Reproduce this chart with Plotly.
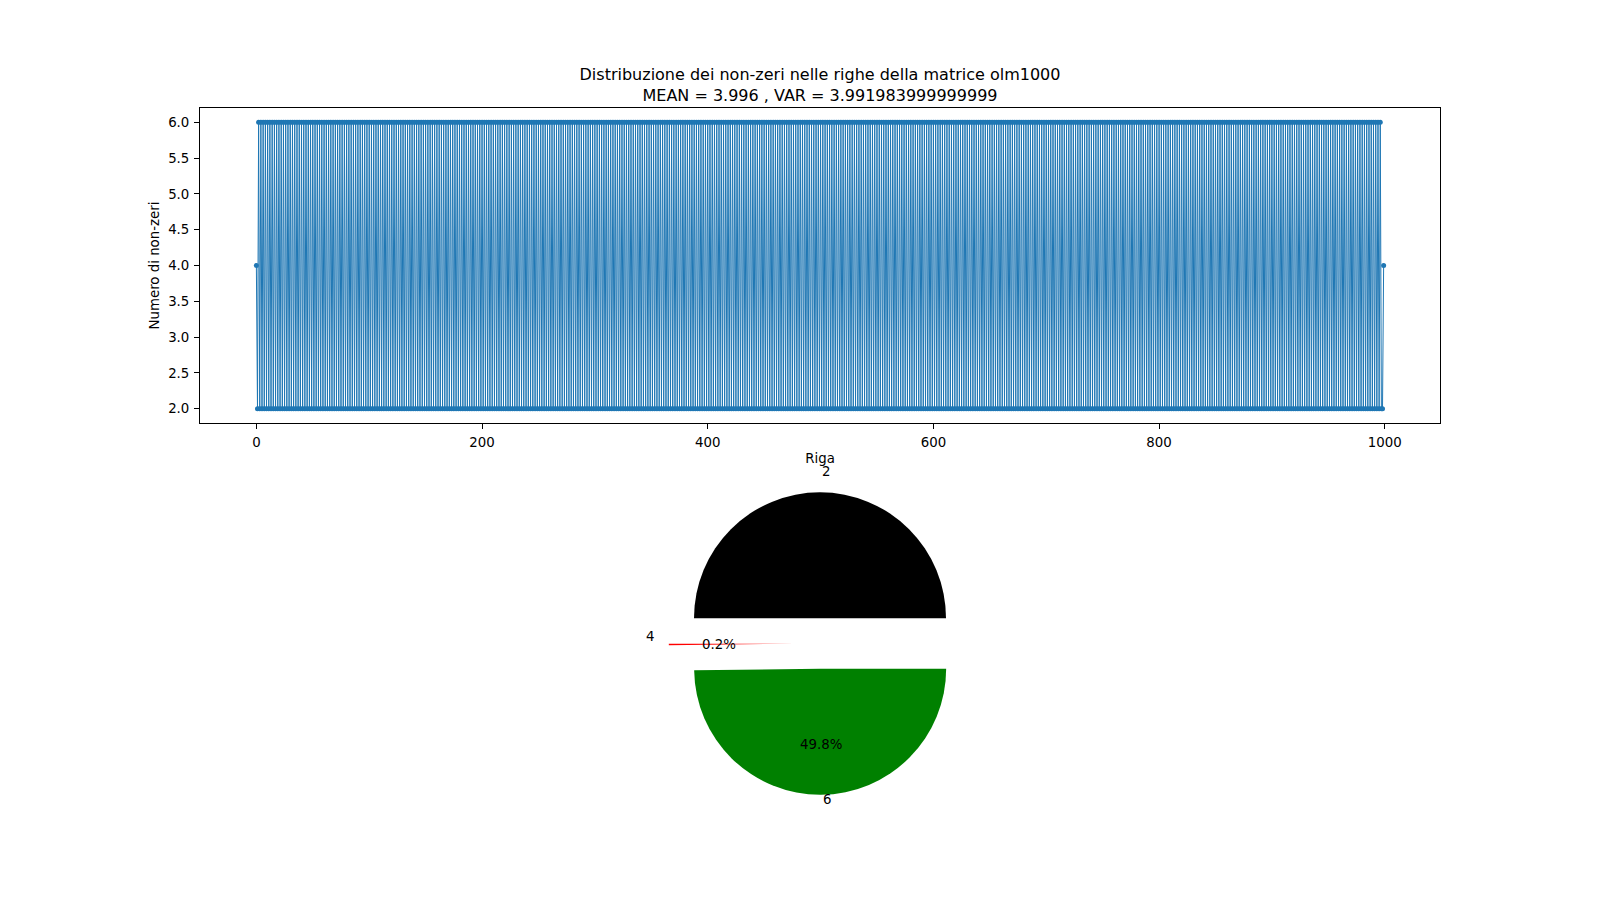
import math
import plotly.graph_objects as go

# Numero di non-zeri per riga della matrice olm1000:
# prima riga 4, poi alternanza 2 / 6, ultime righe 2, 4
nnz_inizio = [4, 2]
nnz_ciclo = [6, 2]
ripetizioni_ciclo = 498
nnz_fine = [2, 4]

nnz = nnz_inizio + nnz_ciclo * ripetizioni_ciclo + nnz_fine
righe = list(range(len(nnz)))

# Torta: quante righe hanno 2, 4, 6 non-zeri
etichette_torta = ["2", "4", "6"]
conteggi_torta = [500, 2, 498]
colori_torta = ["black", "red", "green"]
esplosione = [0.2, 0.2, 0.2]

titolo = "Distribuzione dei non-zeri nelle righe della matrice olm1000"
sottotitolo = "MEAN = 3.996 , VAR = 3.991983999999999"

W, H = 1600, 900


def px(x):
    return x / W


def py(y):
    return 1 - y / H


fig = go.Figure()

# grafico a linee
fig.add_trace(go.Scatter(
    x=righe, y=nnz, mode="lines+markers",
    line=dict(color="#1f77b4", width=1),
    marker=dict(color="#1f77b4", size=5),
    showlegend=False,
))

# torta (geometria come in matplotlib: centro e raggio del secondo subplot)
PIE_CX, PIE_CY, R = 820, 643.5, 126
half = R * (1 + max(esplosione))
fig.add_trace(go.Pie(
    labels=etichette_torta, values=conteggi_torta,
    marker=dict(colors=colori_torta, line=dict(width=0)),
    pull=esplosione, sort=False, direction="counterclockwise", rotation=-90,
    textinfo="none", showlegend=False,
    domain=dict(x=[px(PIE_CX - half), px(PIE_CX + half)],
                y=[py(PIE_CY + half), py(PIE_CY - half)]),
))

# etichette e percentuali della torta
totale = sum(conteggi_torta)
annotazioni = []
theta = 0.0
for lab, cnt, pull in zip(etichette_torta, conteggi_torta, esplosione):
    span = 360.0 * cnt / totale
    mid = math.radians(theta + span / 2)
    c, s = math.cos(mid), math.sin(mid)
    cx = PIE_CX + pull * R * c
    cy = PIE_CY - pull * R * s
    annotazioni.append(dict(
        x=px(cx + 1.1 * R * c), y=py(cy - 1.1 * R * s - 8), text=lab,
        xanchor="left" if c > 0 else "right", yanchor="middle",
    ))
    annotazioni.append(dict(
        x=px(cx + 0.6 * R * c), y=py(cy - 0.6 * R * s),
        text="%1.1f%%" % (100.0 * cnt / totale),
        xanchor="center", yanchor="middle",
    ))
    theta += span

for a in annotazioni:
    a.update(xref="paper", yref="paper", showarrow=False,
             font=dict(size=13.33, color="black"))

asse = dict(
    showline=True, mirror=True, linecolor="black", linewidth=1,
    ticks="outside", ticklen=5, tickwidth=1, tickcolor="black",
    showgrid=False, zeroline=False, automargin=False,
    tickfont=dict(size=13.33), ticklabelstandoff=2,
)

fig.update_layout(
    width=W, height=H,
    margin=dict(l=0, r=0, t=0, b=0),
    paper_bgcolor="white", plot_bgcolor="white",
    font=dict(family="DejaVu Sans", size=13.33, color="black"),
    title=dict(text=titolo + "<br>" + sottotitolo, x=px(820), xanchor="center",
               y=py(80), yanchor="middle", yref="container",
               font=dict(size=16)),
    xaxis=dict(asse, domain=[0.125, 0.9], range=[-49.95, 1048.95],
               tickvals=[0, 200, 400, 600, 800, 1000],
               title=dict(text="Riga", standoff=4, font=dict(size=13.33))),
    yaxis=dict(asse, domain=[0.53, 0.88], range=[1.8, 6.2],
               tickvals=[2.0, 2.5, 3.0, 3.5, 4.0, 4.5, 5.0, 5.5, 6.0],
               tickformat=".1f",
               title=dict(text="Numero di non-zeri", standoff=5,
                          font=dict(size=13.33))),
    annotations=annotazioni,
    template="none",
)

# niente margine della pagina: la figura parte dall'angolo in alto a sinistra
fig.write_html("out.html", config={"displayModeBar": False},
               post_script="document.body.style.margin = '0';")
